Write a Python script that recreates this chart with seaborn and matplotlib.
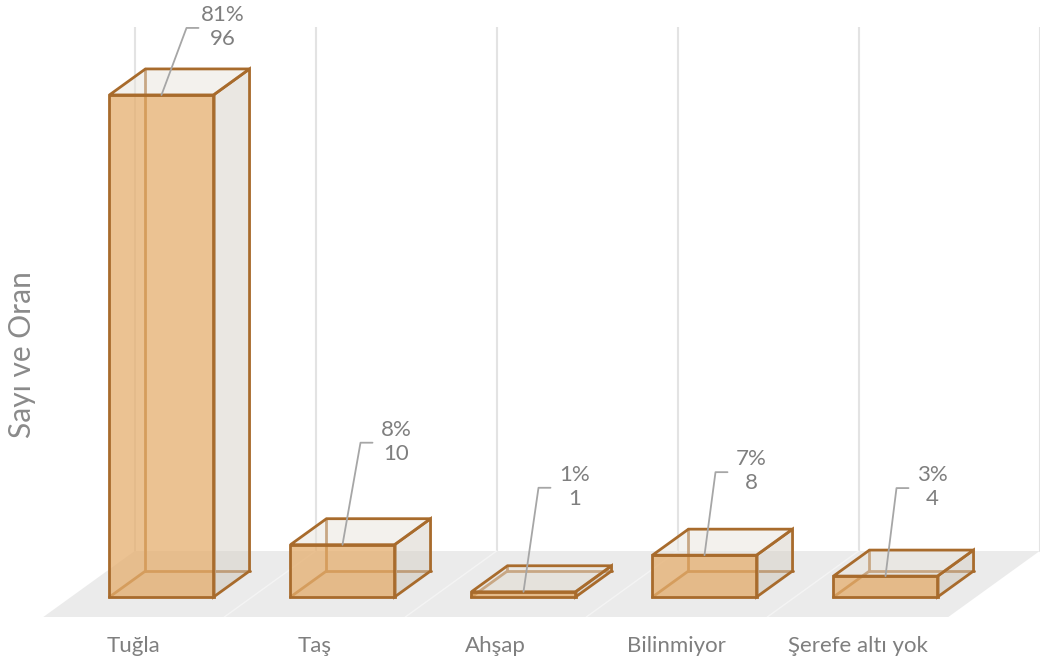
import numpy as np
import pandas as pd
import matplotlib.pyplot as plt
import seaborn as sns
from matplotlib.colors import to_rgba
from matplotlib.patches import Polygon

kategoriler = ["Tuğla", "Taş", "Ahşap", "Bilinmiyor", "Şerefe altı yok"]
sayilar = [96, 10, 1, 8, 4]
oranlar = ["81%", "8%", "1%", "7%", "3%"]

# etiket çizgisinin ucu, çubuğun ön üst ortasına göre (piksel)
etiket_ofset = [(25, 67), (18, 102), (15, 104), (11, 83), (11, 88)]

kenar = "#a86b2c"
on_renk = to_rgba("#e5ae6e", 0.75)
yan_renk = to_rgba("#d6d0c6", 0.5)
ust_renk = to_rgba("#e8e4dc", 0.5)
gri_yazi = "#7f7f7f"

sns.set_theme(style="white")
plt.rcParams["font.family"] = ["Lato", "DejaVu Sans"]

df = pd.DataFrame({"malzeme": kategoriler, "sayi": sayilar})

fig = plt.figure(figsize=(10.42, 6.64), dpi=100)
ax = fig.add_axes([43 / 1042, 47 / 664, 997 / 1042, 590 / 664])

sns.barplot(data=df, x="malzeme", y="sayi", width=0.575, color="#e5ae6e",
            saturation=1, linewidth=2, zorder=5, ax=ax)
cubuklar = list(ax.patches)

ax.set_xlim(-0.6547, 4.8536)
ax.set_ylim(-3.824, 108.99)

# piksel -> veri ölçeği (derinlik efekti için)
p0 = ax.transData.transform((0, 0))
p1 = ax.transData.transform((1, 1))
px_x = p1[0] - p0[0]
px_y = p1[1] - p0[1]
ddx = 36 / px_x
ddy = 26 / px_y
z_on = -20 / 26
z_arka = 46 / 26
n = len(kategoriler)

# zemin
zemin = Polygon([(-0.5 + z_on * ddx, z_on * ddy), (n - 0.5 + z_on * ddx, z_on * ddy),
                 (n - 0.5 + z_arka * ddx, z_arka * ddy), (-0.5 + z_arka * ddx, z_arka * ddy)],
                closed=True, facecolor="#ebebeb", edgecolor="none", zorder=1)
ax.add_patch(zemin)

# arka duvar çizgileri ve zemin çizgileri
ust = ax.get_ylim()[1]
for k in range(n + 1):
    xa = k - 0.5 + z_arka * ddx
    ax.plot([xa, xa], [z_arka * ddy, ust], color="#e3e3e3", lw=1.5, zorder=0.5)
    if 0 < k < n:
        ax.plot([k - 0.5 + z_on * ddx, xa], [z_on * ddy, z_arka * ddy],
                color="#f4f4f4", lw=1, zorder=1.5)

for i, p in enumerate(cubuklar):
    x0, w, h = p.get_x(), p.get_width(), p.get_height()
    p.set_facecolor(on_renk)
    p.set_edgecolor(kenar)
    p.set_linewidth(2)
    p.set_zorder(5)

    # alt yüz ve gizli kenarlar
    ax.add_patch(Polygon([(x0, 0), (x0 + w, 0), (x0 + w + ddx, ddy), (x0 + ddx, ddy)],
                         closed=True, facecolor=to_rgba("#c9c0b2", 0.25),
                         edgecolor="none", zorder=3))
    ax.plot([x0 + ddx, x0 + ddx], [ddy, h + ddy], color=kenar, lw=2, zorder=3)
    ax.plot([x0 + ddx, x0 + w + ddx], [ddy, ddy], color=kenar, lw=2, zorder=3)
    ax.plot([x0, x0 + ddx], [0, ddy], color=kenar, lw=2, zorder=3)

    # sağ yan yüz ve üst yüz
    ax.add_patch(Polygon([(x0 + w, 0), (x0 + w + ddx, ddy), (x0 + w + ddx, h + ddy), (x0 + w, h)],
                         closed=True, facecolor=yan_renk, edgecolor=kenar, lw=2, zorder=5))
    ax.add_patch(Polygon([(x0, h), (x0 + w, h), (x0 + w + ddx, h + ddy), (x0 + ddx, h + ddy)],
                         closed=True, facecolor=ust_renk, edgecolor=kenar, lw=2, zorder=5))

    # veri etiketi ve kılavuz çizgi
    xc = x0 + w / 2
    ox, oy = etiket_ofset[i]
    xt, yt = xc + ox / px_x, h + oy / px_y
    ax.plot([xc, xt, xt + 12 / px_x], [h, yt, yt], color="#a6a6a6", lw=1.3, zorder=7)
    ax.text(xt + 36 / px_x, yt + 1 / px_y, f"{oranlar[i]}\n{sayilar[i]}",
            ha="center", va="center", multialignment="center", fontsize=16,
            linespacing=1.27, color=gri_yazi, zorder=8)

ax.set_xticks(np.arange(n) + z_on * ddx)
ax.set_xticklabels(kategoriler)
ax.tick_params(axis="x", length=0, pad=14, labelsize=16, labelcolor=gri_yazi)
ax.set_yticks([])
ax.set_xlabel("")
ax.set_ylabel("Sayı ve Oran", fontsize=21.5, color="#8a8a8a", va="center")
ax.yaxis.set_label_coords(-0.0211, 0.444)
for s in ax.spines.values():
    s.set_visible(False)

fig.savefig("out.png", dpi=100)
